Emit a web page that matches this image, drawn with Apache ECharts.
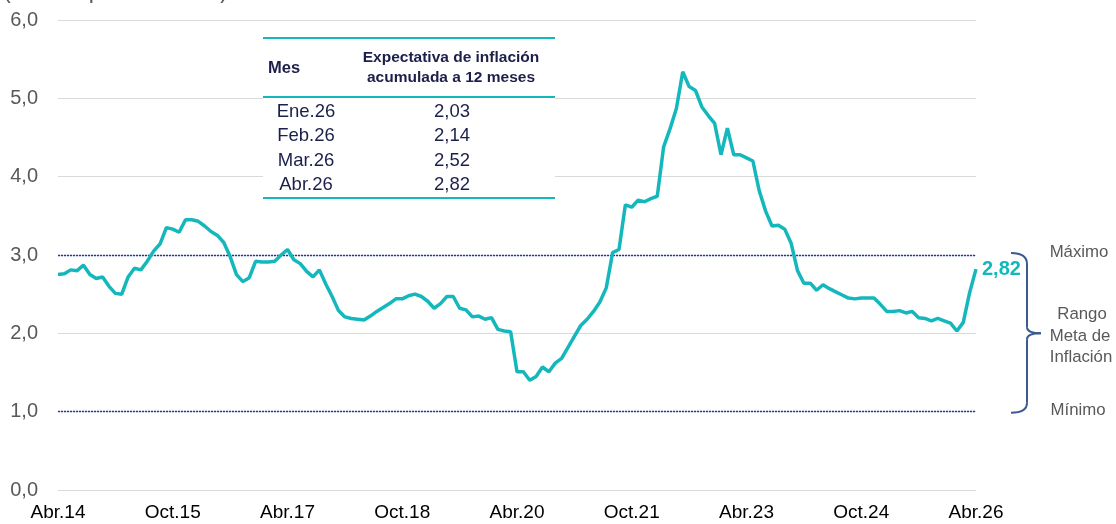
<!DOCTYPE html>
<html>
<head>
<meta charset="utf-8">
<script src="https://cdn.jsdelivr.net/npm/echarts@6/dist/echarts.min.js"></script>
<style>
html,body{margin:0;padding:0;background:#fff;}
#c{width:1116px;height:524px;}
</style>
</head>
<body>
<div id="c"></div>
<script>
// ---- data ----
const monthNames = ['Ene','Feb','Mar','Abr','May','Jun','Jul','Ago','Sep','Oct','Nov','Dic'];
const startYear = 2014, startMonth = 3; // Abr.14
const expectativa = [
  2.75,2.76,2.81,2.80,2.87,2.75,2.70,2.72,2.60,2.51,2.50,2.72,
  2.83,2.81,2.92,3.05,3.14,3.35,3.33,3.29,3.45,3.45,3.43,3.37,
  3.30,3.25,3.16,2.98,2.75,2.66,2.71,2.92,2.91,2.91,2.92,3.00,
  3.07,2.94,2.89,2.79,2.72,2.81,2.63,2.47,2.29,2.21,2.19,2.18,
  2.17,2.22,2.28,2.33,2.38,2.44,2.44,2.48,2.50,2.47,2.41,2.32,
  2.38,2.47,2.47,2.32,2.30,2.21,2.22,2.18,2.20,2.05,2.03,2.02,
  1.51,1.51,1.40,1.45,1.57,1.51,1.62,1.68,1.82,1.96,2.10,2.18,
  2.28,2.40,2.58,3.03,3.07,3.64,3.61,3.70,3.68,3.72,3.75,4.38,
  4.61,4.87,5.34,5.15,5.10,4.89,4.78,4.68,4.28,4.62,4.28,4.28,
  4.24,4.20,3.82,3.56,3.37,3.38,3.33,3.15,2.80,2.64,2.64,2.55,
  2.62,2.57,2.53,2.49,2.45,2.44,2.45,2.45,2.45,2.37,2.28,2.28,
  2.29,2.26,2.28,2.20,2.19,2.16,2.19,2.16,2.13,2.03,2.14,2.52,
  2.82
];
const xTickLabels = ['Abr.14','Oct.15','Abr.17','Oct.18','Abr.20','Oct.21','Abr.23','Oct.24','Abr.26'];
const yTicks = [0,1,2,3,4,5,6];
const rangoMax = 3.0, rangoMin = 1.0;
const tableHeader = ['Mes','Expectativa de inflación','acumulada a 12 meses'];
const tableMonths = ['Ene.26','Feb.26','Mar.26','Abr.26'];
const tableValues = ['2,03','2,14','2,52','2,82'];
const subtitle = '(Puntos porcentuales)';
const rangeLabels = ['Máximo','Rango','Meta de','Inflación','Mínimo'];

const categories = expectativa.map((_, i) => {
  const m = (startMonth + i) % 12;
  const y = startYear + Math.floor((startMonth + i) / 12);
  return monthNames[m] + '.' + String(y).slice(2);
});
const fmt = v => v.toFixed(2).replace('.', ',');

const TEAL = '#14b8bc';
const NAVY = '#1c1f4a';
const GRAY = '#595959';
const FF = 'Arial, "Liberation Sans", sans-serif';

const chart = echarts.init(document.getElementById('c'), null, {renderer: 'canvas'});

function tableGraphics() {
  const g = [];
  const x0 = 263, x1 = 555;
  g.push({type:'rect', shape:{x:x0, y:37, width:x1-x0, height:163}, style:{fill:'#fff'}, z:100});
  [38, 97, 198].forEach(y => g.push({type:'line', shape:{x1:x0, y1:y, x2:x1, y2:y}, style:{stroke:TEAL, lineWidth:2.2}, z:101}));
  g.push({type:'text', x:268, y:68, style:{text:tableHeader[0], font:'bold 16.5px ' + FF, fill:NAVY, verticalAlign:'middle'}, z:102});
  g.push({type:'text', x:451, y:58, style:{text:tableHeader[1], font:'bold 15.5px ' + FF, fill:NAVY, align:'center', verticalAlign:'middle'}, z:102});
  g.push({type:'text', x:451, y:78, style:{text:tableHeader[2], font:'bold 15.5px ' + FF, fill:NAVY, align:'center', verticalAlign:'middle'}, z:102});
  tableMonths.forEach((m, i) => {
    const y = 111.5 + i * 24.5;
    g.push({type:'text', x:306, y:y, style:{text:m, font:'18.5px ' + FF, fill:NAVY, align:'center', verticalAlign:'middle'}, z:102});
    g.push({type:'text', x:452, y:y, style:{text:tableValues[i], font:'18.5px ' + FF, fill:NAVY, align:'center', verticalAlign:'middle'}, z:102});
  });
  return g;
}

const option = {
  animation: false,
  backgroundColor: '#fff',
  grid: {left: 58, right: 140, top: 20, bottom: 34, containLabel: false},
  xAxis: {
    type: 'category',
    data: categories,
    boundaryGap: false,
    axisLine: {show: false},
    axisTick: {show: false},
    splitLine: {show: false},
    axisLabel: {
      interval: (idx, val) => xTickLabels.indexOf(val) >= 0,
      color: '#000',
      fontSize: 19,
      fontFamily: FF,
      margin: 13
    }
  },
  yAxis: {
    type: 'value',
    min: yTicks[0],
    max: yTicks[yTicks.length - 1],
    interval: 1,
    axisLine: {show: false},
    axisTick: {show: false},
    splitLine: {lineStyle: {color: '#d9d9d9', width: 1}},
    axisLabel: {
      formatter: v => v.toFixed(1).replace('.', ','),
      color: GRAY,
      fontSize: 20,
      fontFamily: FF,
      margin: 20
    }
  },
  series: [{
    type: 'line',
    data: expectativa,
    symbol: 'none',
    lineStyle: {color: TEAL, width: 3.5},
    z: 5,
    endLabel: {
      show: true,
      formatter: p => fmt(p.value),
      color: TEAL,
      fontWeight: 'bold',
      fontSize: 20,
      fontFamily: FF,
      distance: 6
    },
    markLine: {
      silent: true,
      symbol: 'none',
      label: {show: false},
      lineStyle: {color: '#1f3a93', width: 1.3, type: [2, 1]},
      data: [{yAxis: rangoMax}, {yAxis: rangoMin}],
      z: 3
    }
  }]
};
chart.setOption(option);

function addAnnotations() {
  const yTop = chart.convertToPixel({yAxisIndex: 0}, rangoMax);
  const yBot = chart.convertToPixel({yAxisIndex: 0}, rangoMin);
  const yMid = (yTop + yBot) / 2;
  const bx0 = 1011, bx1 = 1027, bxTip = 1041, r = 9;
  const bs = {stroke:'#3b5a8f', lineWidth:2, fill:null};
  const font = '16.8px ' + FF;
  const g = tableGraphics();
  // curly brace built from simple shapes
  g.push({type:'bezierCurve', shape:{x1:bx0, y1:yTop - 2, cpx1:bx1, cpy1:yTop - 2, x2:bx1, y2:yTop + r}, style:bs, z:50});
  g.push({type:'line', shape:{x1:bx1, y1:yTop + r, x2:bx1, y2:yMid - 6}, style:bs, z:50});
  g.push({type:'bezierCurve', shape:{x1:bx1, y1:yMid - 6, cpx1:bx1, cpy1:yMid, x2:bxTip, y2:yMid}, style:bs, z:50});
  g.push({type:'bezierCurve', shape:{x1:bxTip, y1:yMid, cpx1:bx1, cpy1:yMid, x2:bx1, y2:yMid + 6}, style:bs, z:50});
  g.push({type:'line', shape:{x1:bx1, y1:yMid + 6, x2:bx1, y2:yBot - r}, style:bs, z:50});
  g.push({type:'bezierCurve', shape:{x1:bx1, y1:yBot - r, cpx1:bx1, cpy1:yBot + 1, x2:bx0, y2:yBot + 1}, style:bs, z:50});
  g.push({type:'text', x:1079, y:yTop - 3, style:{text:rangeLabels[0], font:font, fill:GRAY, align:'center', verticalAlign:'middle'}});
  g.push({type:'text', x:1082, y:yMid - 19, style:{text:rangeLabels[1], font:font, fill:GRAY, align:'center', verticalAlign:'middle'}});
  g.push({type:'text', x:1080, y:yMid + 3, style:{text:rangeLabels[2], font:font, fill:GRAY, align:'center', verticalAlign:'middle'}});
  g.push({type:'text', x:1081, y:yMid + 24, style:{text:rangeLabels[3], font:font, fill:GRAY, align:'center', verticalAlign:'middle'}});
  g.push({type:'text', x:1078, y:yBot - 1, style:{text:rangeLabels[4], font:font, fill:GRAY, align:'center', verticalAlign:'middle'}});
  g.push({type:'text', x:3, y:-8, style:{text:subtitle, font:'23px ' + FF, fill:GRAY, verticalAlign:'middle'}});
  chart.setOption({graphic: g});
}
addAnnotations();
</script>
</body>
</html>
